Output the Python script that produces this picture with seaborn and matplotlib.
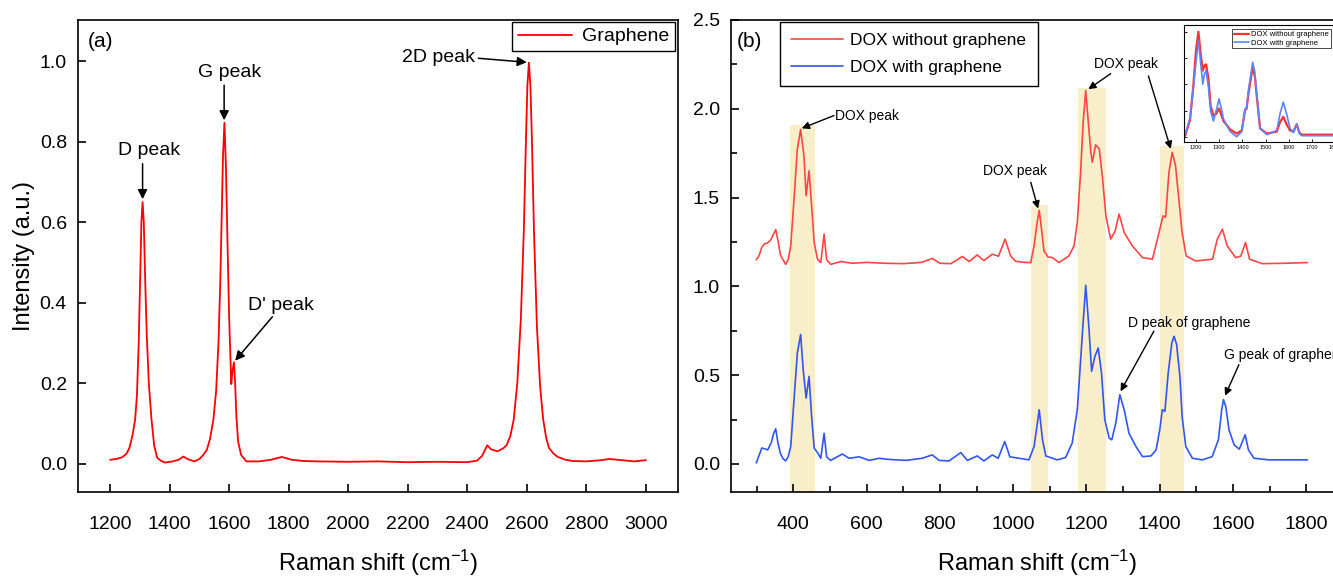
import matplotlib
matplotlib.use('Agg')
import matplotlib.pyplot as plt
import seaborn as sns
from matplotlib.ticker import MultipleLocator, NullFormatter

# ---- panel (a): graphene spectrum ----
g_shift = [1200, 1220, 1240, 1255, 1265, 1275, 1284, 1290, 1296, 1300, 1305, 1309, 1313, 1318,
           1323, 1330, 1339, 1348, 1358, 1370, 1384, 1410, 1430, 1446, 1460, 1482, 1500, 1513,
           1525, 1535, 1547, 1556, 1564, 1570, 1575, 1579, 1584, 1589, 1594, 1600, 1607, 1611,
           1616, 1620, 1624, 1630, 1640, 1658, 1700, 1740, 1777, 1810, 1850, 1900, 2000, 2100,
           2200, 2300, 2400, 2433, 2450, 2467, 2480, 2501, 2520, 2532, 2545, 2556, 2568, 2580,
           2590, 2597, 2602, 2607, 2612, 2617, 2624, 2634, 2645, 2655, 2665, 2674, 2690, 2704,
           2730, 2753, 2800, 2850, 2876, 2920, 2960, 3000]
g_int = [0.010, 0.012, 0.016, 0.025, 0.040, 0.070, 0.110, 0.170, 0.300, 0.430, 0.600, 0.650, 0.600, 0.450,
         0.320, 0.200, 0.110, 0.045, 0.015, 0.008, 0.003, 0.006, 0.010, 0.018, 0.012, 0.006, 0.012, 0.022,
         0.035, 0.060, 0.110, 0.180, 0.300, 0.450, 0.620, 0.760, 0.847, 0.740, 0.560, 0.360, 0.198, 0.230,
         0.252, 0.200, 0.120, 0.055, 0.022, 0.006, 0.006, 0.010, 0.017, 0.010, 0.007, 0.006, 0.005, 0.006,
         0.004, 0.005, 0.004, 0.008, 0.020, 0.046, 0.036, 0.031, 0.038, 0.046, 0.070, 0.110, 0.200, 0.360,
         0.580, 0.800, 0.940, 0.996, 0.940, 0.810, 0.580, 0.340, 0.190, 0.110, 0.065, 0.040, 0.025, 0.017,
         0.010, 0.007, 0.006, 0.009, 0.012, 0.009, 0.006, 0.009]

# ---- panel (b): DOX spectra ----
dox_shift = [299, 306, 314, 322, 330, 338, 345, 352, 358, 365, 372, 379, 386, 393, 402, 411, 420, 429,
             435, 443, 450, 457, 466, 475, 484, 491, 502, 530, 560, 600, 650, 700, 750, 779, 800, 830,
             861, 880, 902, 920, 943, 960, 978, 993, 1007, 1030, 1048, 1057, 1064, 1071, 1078, 1084,
             1095, 1107, 1125, 1140, 1152, 1166, 1175, 1184, 1191, 1198, 1205, 1212, 1216, 1225, 1235,
             1244, 1253, 1266, 1278, 1289, 1303, 1325, 1353, 1380, 1398, 1409, 1416, 1425, 1434, 1443,
             1452, 1461, 1472, 1498, 1544, 1557, 1571, 1584, 1607, 1621, 1634, 1645, 1680, 1740, 1803]
dox_int = [1.150, 1.170, 1.220, 1.240, 1.245, 1.260, 1.290, 1.320, 1.260, 1.175, 1.150, 1.124, 1.150, 1.228,
           1.490, 1.774, 1.883, 1.736, 1.510, 1.651, 1.454, 1.247, 1.153, 1.134, 1.294, 1.150, 1.124, 1.140,
           1.130, 1.135, 1.130, 1.128, 1.135, 1.157, 1.130, 1.128, 1.168, 1.140, 1.177, 1.145, 1.181, 1.170,
           1.266, 1.171, 1.141, 1.135, 1.134, 1.228, 1.340, 1.429, 1.310, 1.200, 1.165, 1.162, 1.134, 1.155,
           1.171, 1.228, 1.360, 1.642, 1.925, 2.103, 1.925, 1.755, 1.699, 1.797, 1.774, 1.605, 1.397, 1.266,
           1.310, 1.407, 1.303, 1.228, 1.162, 1.153, 1.303, 1.397, 1.390, 1.642, 1.755, 1.680, 1.492, 1.303,
           1.171, 1.143, 1.153, 1.266, 1.322, 1.228, 1.162, 1.170, 1.247, 1.153, 1.128, 1.130, 1.134]

doxg_shift = [299, 307, 314, 322, 330, 340, 346, 352, 358, 365, 372, 379, 386, 393, 402, 411, 420, 427,
              435, 443, 450, 457, 466, 475, 484, 491, 502, 534, 552, 580, 607, 634, 657, 707, 752, 779,
              798, 825, 857, 875, 902, 920, 943, 959, 977, 991, 1016, 1043, 1057, 1064, 1071, 1080, 1089,
              1120, 1143, 1161, 1175, 1189, 1198, 1207, 1214, 1223, 1232, 1241, 1250, 1262, 1269, 1280,
              1291, 1303, 1316, 1335, 1353, 1376, 1390, 1400, 1407, 1414, 1423, 1433, 1439, 1446, 1455,
              1461, 1471, 1489, 1516, 1543, 1560, 1569, 1574, 1580, 1589, 1603, 1617, 1633, 1642, 1657,
              1698, 1803]
doxg_int = [0.006, 0.050, 0.090, 0.085, 0.079, 0.120, 0.170, 0.198, 0.120, 0.058, 0.030, 0.017, 0.040, 0.098,
            0.362, 0.625, 0.729, 0.531, 0.371, 0.493, 0.267, 0.089, 0.064, 0.032, 0.173, 0.040, 0.020, 0.056,
            0.032, 0.040, 0.020, 0.032, 0.026, 0.020, 0.032, 0.051, 0.020, 0.017, 0.064, 0.020, 0.045, 0.017,
            0.051, 0.032, 0.126, 0.040, 0.032, 0.023, 0.098, 0.200, 0.305, 0.136, 0.045, 0.023, 0.036, 0.117,
            0.305, 0.738, 1.006, 0.757, 0.522, 0.606, 0.653, 0.512, 0.249, 0.145, 0.136, 0.230, 0.390, 0.305,
            0.173, 0.098, 0.041, 0.045, 0.079, 0.192, 0.305, 0.296, 0.512, 0.682, 0.719, 0.672, 0.493, 0.267,
            0.098, 0.032, 0.023, 0.041, 0.136, 0.305, 0.362, 0.324, 0.192, 0.107, 0.083, 0.164, 0.079, 0.032,
            0.023, 0.023]

# highlighted DOX bands: (start, end, top)
band_start = [390, 1048, 1177, 1402]
band_end = [459, 1096, 1252, 1466]
band_top = [1.906, 1.458, 2.117, 1.793]

# ---- inset: normalised spectra 1150-1800 ----
ins_shift = [1153, 1174, 1188, 1200, 1210, 1220, 1229, 1236, 1243, 1253, 1263, 1275, 1287, 1299, 1310,
             1318, 1347, 1375, 1397, 1411, 1418, 1425, 1444, 1453, 1462, 1476, 1505, 1548, 1562, 1576,
             1590, 1605, 1620, 1634, 1645, 1656, 1792]
ins_red = [0.01, 0.16, 0.48, 0.83, 1.00, 0.79, 0.63, 0.68, 0.69, 0.56, 0.29, 0.20, 0.22, 0.27, 0.20,
           0.15, 0.07, 0.03, 0.06, 0.25, 0.27, 0.40, 0.66, 0.58, 0.38, 0.08, 0.03, 0.05, 0.14, 0.19,
           0.12, 0.06, 0.05, 0.12, 0.04, 0.02, 0.02]
ins_blue = [0.02, 0.18, 0.45, 0.72, 0.92, 0.70, 0.50, 0.60, 0.63, 0.48, 0.24, 0.15, 0.25, 0.36, 0.26,
            0.17, 0.05, 0.00, 0.05, 0.26, 0.28, 0.43, 0.71, 0.62, 0.40, 0.08, 0.02, 0.06, 0.22, 0.33,
            0.22, 0.08, 0.04, 0.12, 0.03, 0.01, 0.01]

sns.set_theme(style='ticks')
plt.rcParams['font.family'] = ['Liberation Sans', 'DejaVu Sans']
plt.rcParams['mathtext.fontset'] = 'custom'
plt.rcParams['mathtext.rm'] = 'Liberation Sans'
plt.rcParams['mathtext.default'] = 'regular'
for key in ('text.color', 'axes.labelcolor', 'xtick.color', 'ytick.color', 'axes.edgecolor'):
    plt.rcParams[key] = 'black'

W, H = 1333, 578
fig = plt.figure(figsize=(W / 100, H / 100), dpi=100)


def px_axes(l, t, r, b):
    return fig.add_axes([l / W, 1 - b / H, (r - l) / W, (b - t) / H])


ax1 = px_axes(78, 20, 678, 492)
ax2 = px_axes(731, 20, 1343, 492)
axi = px_axes(1184, 25, 1345, 142)

for ax in (ax1, ax2, axi):
    for s in ax.spines.values():
        s.set_linewidth(1.2)

# panel (a)
sns.lineplot(x=g_shift, y=g_int, ax=ax1, color='#ff0000', lw=1.3, label='Graphene')
ax1.set_xlim(1092, 3108)
ax1.set_ylim(-0.07, 1.102)
ax1.xaxis.set_major_locator(MultipleLocator(200))
ax1.yaxis.set_major_locator(MultipleLocator(0.2))
ax1.yaxis.set_major_formatter(plt.FormatStrFormatter('%.1f'))
ax1.tick_params(direction='in', length=6, width=1.2, labelsize=14)
ax1.tick_params(axis='x', pad=17)
ax1.tick_params(axis='y', pad=8)
ax1.set_xlabel('Raman shift (cm$^{-1}$)', fontsize=17, labelpad=11)
ax1.set_ylabel('Intensity (a.u.)', fontsize=17, labelpad=3)
ax1.legend(loc='upper right', bbox_to_anchor=(0.995, 0.996), fontsize=14, frameon=True,
           fancybox=False, edgecolor='black', framealpha=1, handlelength=2.8, handletextpad=0.5,
           borderpad=0.3, borderaxespad=0).get_frame().set_linewidth(1.0)
ax1.text(0.017, 0.954, '(a)', transform=ax1.transAxes, fontsize=15, va='center')

arrow = dict(arrowstyle='-|>', color='black', lw=1.1, mutation_scale=14, shrinkA=0, shrinkB=0)
ax1.text(1330, 0.777, 'D peak', fontsize=14, ha='center', va='center')
ax1.annotate('', xy=(1309, 0.657), xytext=(1309, 0.745), arrowprops=arrow)
ax1.text(1602, 0.971, 'G peak', fontsize=14, ha='center', va='center')
ax1.annotate('', xy=(1583, 0.853), xytext=(1583, 0.94), arrowprops=arrow)
ax1.text(1773, 0.394, "D' peak", fontsize=14, ha='center', va='center')
ax1.annotate('', xy=(1620, 0.256), xytext=(1745, 0.365), arrowprops=arrow)
ax1.text(2304, 1.008, '2D peak', fontsize=14, ha='center', va='center')
ax1.annotate('', xy=(2600, 0.997), xytext=(2437, 1.007), arrowprops=arrow)

# panel (b)
for x0, x1, top in zip(band_start, band_end, band_top):
    ax2.fill_between([x0, x1], -1, top, color='#f8efca', lw=0, zorder=0)
sns.lineplot(x=dox_shift, y=dox_int, ax=ax2, color='#ff4545', lw=1.2, label='DOX without graphene')
sns.lineplot(x=doxg_shift, y=doxg_int, ax=ax2, color='#3355ee', lw=1.2, label='DOX with graphene')
ax2.set_xlim(230, 1900)
ax2.set_ylim(-0.158, 2.5)
ax2.xaxis.set_major_locator(MultipleLocator(200))
ax2.xaxis.set_minor_locator(MultipleLocator(100))
ax2.yaxis.set_major_locator(MultipleLocator(0.5))
ax2.yaxis.set_minor_locator(MultipleLocator(0.25))
ax2.yaxis.set_major_formatter(plt.FormatStrFormatter('%.1f'))
ax2.tick_params(which='both', direction='in', width=1.2, labelsize=14)
ax2.tick_params(which='major', length=6)
ax2.tick_params(which='minor', length=4)
ax2.tick_params(axis='x', which='major', pad=17)
ax2.tick_params(axis='y', which='major', pad=8)
ax2.set_xlabel('Raman shift (cm$^{-1}$)', fontsize=17, labelpad=11)
ax2.legend(loc='upper left', bbox_to_anchor=(0.08, 0.996), fontsize=12.5, frameon=True,
           fancybox=False, edgecolor='black', framealpha=1, handlelength=3.0, handletextpad=0.4,
           borderpad=0.65, labelspacing=0.65, borderaxespad=0).get_frame().set_linewidth(1.0)
ax2.text(0.01, 0.954, '(b)', transform=ax2.transAxes, fontsize=15, va='center')

arrow_s = dict(arrowstyle='-|>', color='black', lw=1.0, mutation_scale=11, shrinkA=0, shrinkB=0)
ax2.text(515, 1.962, 'DOX peak', fontsize=10, ha='left', va='center')
ax2.annotate('', xy=(423, 1.89), xytext=(511, 1.962), arrowprops=arrow_s)
ax2.text(1006, 1.647, 'DOX peak', fontsize=10, ha='center', va='center')
ax2.annotate('', xy=(1068, 1.438), xytext=(1048, 1.586), arrowprops=arrow_s)
ax2.text(1309, 2.254, 'DOX peak', fontsize=10, ha='center', va='center')
ax2.annotate('', xy=(1205, 2.11), xytext=(1266, 2.198), arrowprops=arrow_s)
ax2.annotate('', xy=(1430, 1.774), xytext=(1369, 2.185), arrowprops=arrow_s)
ax2.text(1481, 0.795, 'D peak of graphene', fontsize=10, ha='center', va='center')
ax2.annotate('', xy=(1293, 0.409), xytext=(1384, 0.748), arrowprops=arrow_s)
ax2.text(1575, 0.616, 'G peak of graphene', fontsize=10, ha='left', va='center')
ax2.annotate('', xy=(1578, 0.384), xytext=(1616, 0.559), arrowprops=arrow_s)

# inset
sns.lineplot(x=ins_shift, y=ins_red, ax=axi, color='#ff3030', lw=1.6, label='DOX without graphene')
sns.lineplot(x=ins_shift, y=ins_blue, ax=axi, color='#5b85ff', lw=1.2, label='DOX with graphene')
axi.set_xlim(1148, 1842)
axi.set_ylim(-0.05, 1.065)
axi.xaxis.set_major_locator(MultipleLocator(100))
axi.set_yticks([0, 0.25, 0.5, 0.75, 1.0])
axi.yaxis.set_major_formatter(NullFormatter())
axi.tick_params(direction='in', length=2, width=0.6, labelsize=4, pad=2)
for s in axi.spines.values():
    s.set_linewidth(0.8)
axi.set_facecolor('white')
axi.legend(loc='upper left', bbox_to_anchor=(0.30, 0.963), fontsize=5.5, frameon=True, fancybox=False,
           edgecolor='black', framealpha=1, handlelength=2.0, handletextpad=0.3, borderpad=0.2,
           labelspacing=0.15, borderaxespad=0).get_frame().set_linewidth(0.5)

fig.savefig('out.png', dpi=100)
